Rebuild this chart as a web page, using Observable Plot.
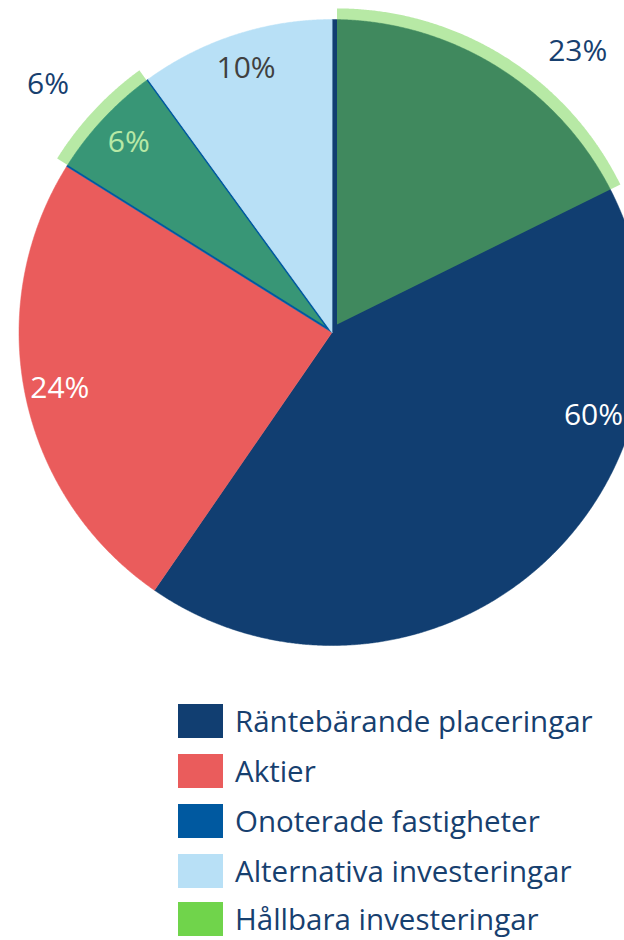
<!DOCTYPE html>
<html><head><meta charset="utf-8">
<script src="https://cdn.jsdelivr.net/npm/d3@7"></script>
<script src="https://cdn.jsdelivr.net/npm/@observablehq/plot@0.6"></script>
<style>
html,body{margin:0;padding:0;background:#fff;overflow:hidden;width:624px;height:940px;}
#chart svg{display:block;overflow:hidden;}
.legend{margin-top:44px;margin-left:178px;font-family:"Open Sans",sans-serif;font-size:29.5px;line-height:34px;color:#17406f;}
.item{display:flex;align-items:center;height:34px;margin-bottom:16px;white-space:nowrap;}
.item:nth-child(4){margin-bottom:14px;}
.item:last-child{margin-bottom:0;}
.sw{width:45px;height:34px;margin-right:12px;flex:none;}
</style></head><body>
<div id="chart"></div>
<div class="legend" id="legend"></div>
<script>
// ---- data ----
const categories = ["Räntebärande placeringar", "Aktier", "Onoterade fastigheter", "Alternativa investeringar", "Hållbara investeringar"];
const shares = [59.6, 24.3, 6.1, 10.0];              // main pie, % of circle
const shareLabels = ["60%", "24%", "6%", "10%"];
const colors = ["#113e71", "#ea5c5c", "#0059a0", "#b8e0f6", "#70d44b"];
// Hållbara investeringar: second, exploded pie drawn semi-transparent on top
const hallbaraShares = [17.7, 41.9, 24.3, 6.1, 10.0];
const hallbaraShown = [true, false, false, true, false];
const hallbaraLabels = ["23%", "", "", "6%", ""];

// ---- layout constants ----
const W = 624, H = 660, CX = 331.5, CY = 332, R = 313, R2 = 316, EXPLODE = 9.5;
const innerLabelR = 278, outerLabelR = 368, labelSize = 30;
const innerNudge = [[-4, 0], [0, 0], [0, 0], [0, 0]];
const outerNudge = [[46.5, -40], null, null, [-8, -9], null];
const innerLabelColor = ["white", "white", "white", "#404040"];

function arcs(values) {
  const total = d3.sum(values); let a = 0;
  return values.map(v => { const a0 = a; a += v / total * 2 * Math.PI; return [a0, a]; });
}
function wedge(key, cat, a0, a1, r, ox, oy) {
  const pts = [{key, cat, x: ox, y: oy}];
  const n = Math.max(2, Math.ceil((a1 - a0) / (Math.PI / 720)));
  for (let i = 0; i <= n; i++) {
    const a = a0 + (a1 - a0) * i / n;
    pts.push({key, cat, x: ox + r * Math.sin(a), y: oy + r * Math.cos(a)});
  }
  return pts;
}

const mainArcs = arcs(shares);
const mainPts = mainArcs.flatMap(([a0, a1], i) => wedge("m" + i, categories[i], a0, a1, R, 0, 0));
const innerLabels = mainArcs.map(([a0, a1], i) => {
  const m = (a0 + a1) / 2;
  return {text: shareLabels[i], x: innerLabelR * Math.sin(m) + innerNudge[i][0], y: innerLabelR * Math.cos(m) + innerNudge[i][1], color: innerLabelColor[i]};
});

const hArcs = arcs(hallbaraShares);
const overlayPts = [], outerLabels = [];
hArcs.forEach(([a0, a1], i) => {
  if (!hallbaraShown[i]) return;
  const m = (a0 + a1) / 2;
  const ox = EXPLODE * Math.sin(m), oy = EXPLODE * Math.cos(m);
  overlayPts.push(...wedge("h" + i, categories[4], a0, a1, R2, ox, oy));
  const [nx, ny] = outerNudge[i] || [0, 0];
  outerLabels.push({text: hallbaraLabels[i], x: ox + outerLabelR * Math.sin(m) + nx, y: oy + outerLabelR * Math.cos(m) + ny});
});

const chart = Plot.plot({
  width: W, height: H,
  marginTop: 0, marginRight: 0, marginBottom: 0, marginLeft: 0,
  x: {domain: [-CX, W - CX], axis: null},
  y: {domain: [CY - H, CY], axis: null},
  color: {domain: categories, range: colors},
  style: {fontFamily: "'Open Sans', sans-serif", background: "white", overflow: "hidden"},
  marks: [
    Plot.line(mainPts, {x: "x", y: "y", z: "key", fill: "cat", stroke: "cat", strokeWidth: 0.5, curve: "linear-closed"}),
    Plot.text(innerLabels.filter(d => d.color === "white"), {x: "x", y: "y", text: "text", fill: "white", fontSize: labelSize}),
    Plot.text(innerLabels.filter(d => d.color !== "white"), {x: "x", y: "y", text: "text", fill: "#404040", fontSize: labelSize}),
    Plot.line(overlayPts, {x: "x", y: "y", z: "key", fill: "cat", fillOpacity: 0.5, stroke: "none", curve: "linear-closed"}),
    Plot.text(outerLabels, {x: "x", y: "y", text: "text", fill: "#17406f", fontSize: labelSize})
  ]
});
document.getElementById("chart").appendChild(chart);

const legend = document.getElementById("legend");
categories.forEach((c, i) => {
  const item = document.createElement("div"); item.className = "item";
  const sw = document.createElement("div"); sw.className = "sw"; sw.style.background = colors[i];
  const t = document.createElement("span"); t.textContent = c;
  item.appendChild(sw); item.appendChild(t); legend.appendChild(item);
});
</script>
</body></html>
